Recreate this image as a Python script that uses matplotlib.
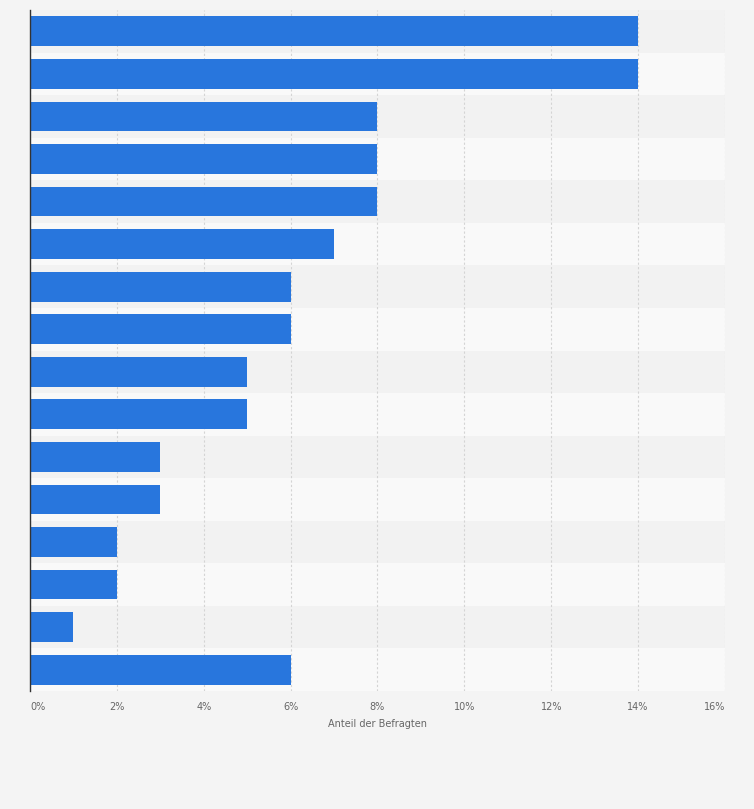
import matplotlib.pyplot as plt
from matplotlib.ticker import FixedLocator

# shares of respondents, top to bottom (no category labels shown in the chart)
values = [14, 14, 8, 8, 8, 7, 6, 6, 5, 5, 3, 3, 2, 2, 1, 6]
tick_values = [0, 2, 4, 6, 8, 10, 12, 14, 16]
tick_labels = [str(t) + '%' for t in tick_values]
x_label = 'Anteil der Befragten'

BAR_COLOR = '#2876dd'
BG_COLOR = '#f4f4f4'

fig = plt.figure(figsize=(7.54, 8.09), dpi=100)
fig.patch.set_facecolor(BG_COLOR)
ax = fig.add_axes([30 / 754, 1 - 691 / 809, 695 / 754, 681 / 809])
ax.set_facecolor(BG_COLOR)

n = len(values)
positions = list(range(n))

# alternating row bands
for i in positions:
    band = '#f2f2f2' if i % 2 == 0 else '#f9f9f9'
    ax.axhspan(i - 0.5, i + 0.5, color=band, zorder=0, lw=0)

ax.barh(positions, values, height=0.7, color=BAR_COLOR, zorder=3)

ax.set_xlim(0, 16)
ax.set_ylim(n - 0.5, -0.5)
ax.xaxis.set_major_locator(FixedLocator(tick_values))
ax.set_xticklabels(tick_labels)
ax.set_yticks([])

ax.grid(axis='x', color='#d4d4d4', linestyle=(0, (2, 2)), linewidth=0.8, zorder=1)
ax.tick_params(axis='x', length=0, pad=8, labelsize=7, labelcolor='#666666')

labels = ax.get_xticklabels()
labels[0].set_ha('left')
labels[-1].set_ha('right')

for side in ['top', 'right', 'bottom']:
    ax.spines[side].set_visible(False)
ax.spines['left'].set_color('#333333')
ax.spines['left'].set_linewidth(1)
ax.spines['left'].set_zorder(4)

ax.set_xlabel(x_label, fontsize=7, color='#666666', labelpad=5)

fig.savefig('out.png', dpi=100, facecolor=BG_COLOR)
